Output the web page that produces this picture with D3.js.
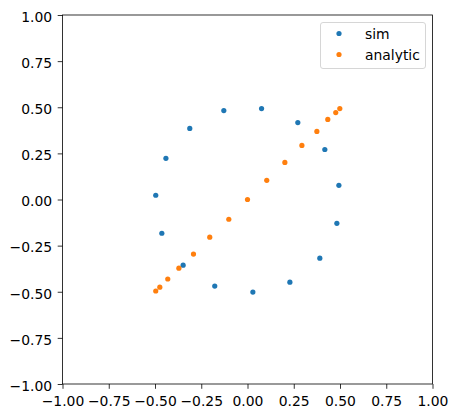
<!DOCTYPE html>
<html><head><meta charset="utf-8">
<script src="https://cdn.jsdelivr.net/npm/d3@7"></script>
<style>body{margin:0;background:#fff}svg{display:block}text{font-family:"DejaVu Sans",sans-serif}</style>
</head><body>
<script>
const simX = [-0.496,-0.441,-0.312,-0.128,0.076,0.272,0.418,0.494,0.483,0.391,0.229,0.029,-0.177,-0.348,-0.463];
const simY = [0.023,0.223,0.385,0.482,0.493,0.417,0.271,0.077,-0.129,-0.318,-0.448,-0.502,-0.469,-0.356,-0.183];
const anaX = [-0.496,-0.474,-0.431,-0.371,-0.292,-0.204,-0.101,0.0,0.104,0.202,0.294,0.375,0.434,0.477,0.499];
const anaY = [-0.496,-0.475,-0.431,-0.372,-0.296,-0.204,-0.107,0.0,0.104,0.201,0.293,0.369,0.434,0.471,0.493];
const ticks = [-1,-0.75,-0.5,-0.25,0,0.25,0.5,0.75,1];
const seriesNames = ["sim","analytic"];
const colors = ["#1f77b4","#ff7f0e"];

const W=457,H=418, L=62.5, R=432.5, T=15, B=384;
const FS="13.9px";
const svg=d3.select("body").append("svg").attr("width",W).attr("height",H);
const x=d3.scaleLinear().domain([-1,1]).range([L,R]);
const y=d3.scaleLinear().domain([-1,1]).range([B,T]);
const fmt=d => d3.format(".2f")(d).replace("-","\u2212");

const xa=svg.append("g").attr("transform",`translate(0,${B})`)
  .call(d3.axisBottom(x).tickValues(ticks).tickFormat(fmt).tickSize(4.8).tickPadding(7.6));
const ya=svg.append("g").attr("transform",`translate(${L},0)`)
  .call(d3.axisLeft(y).tickValues(ticks).tickFormat(fmt).tickSize(4.8).tickPadding(5.6));
[xa,ya].forEach(a=>{a.select(".domain").remove();
  a.selectAll("text").attr("font-size",FS).attr("fill","#000").attr("font-family","DejaVu Sans");
  a.selectAll("line").attr("stroke","#000").attr("stroke-width",0.8);});
ya.selectAll("text").attr("dy","0.45em");

svg.append("rect").attr("x",L).attr("y",T).attr("width",R-L).attr("height",B-T)
  .attr("fill","none").attr("stroke","#000").attr("stroke-width",0.8);

const data=[simX.map((v,i)=>[v,simY[i]]), anaX.map((v,i)=>[v,anaY[i]])];
data.forEach((d,k)=>{
  svg.append("g").selectAll("circle").data(d).join("circle")
    .attr("cx",p=>x(p[0])).attr("cy",p=>y(p[1])).attr("r",2.6).attr("fill",colors[k]);
});

// legend
const lg=svg.append("g");
lg.append("rect").attr("x",320.5).attr("y",22.5).attr("width",105).attr("height",46)
  .attr("rx",2.5).attr("fill","#fff").attr("fill-opacity",0.8).attr("stroke","#ccc").attr("stroke-width",0.8);
seriesNames.forEach((n,i)=>{
  const yy=33.5+i*21;
  lg.append("circle").attr("cx",339).attr("cy",yy).attr("r",2.6).attr("fill",colors[i]);
  lg.append("text").attr("x",365).attr("y",yy).attr("dy","0.36em").attr("font-size",FS).text(n);
});
</script>
</body></html>
